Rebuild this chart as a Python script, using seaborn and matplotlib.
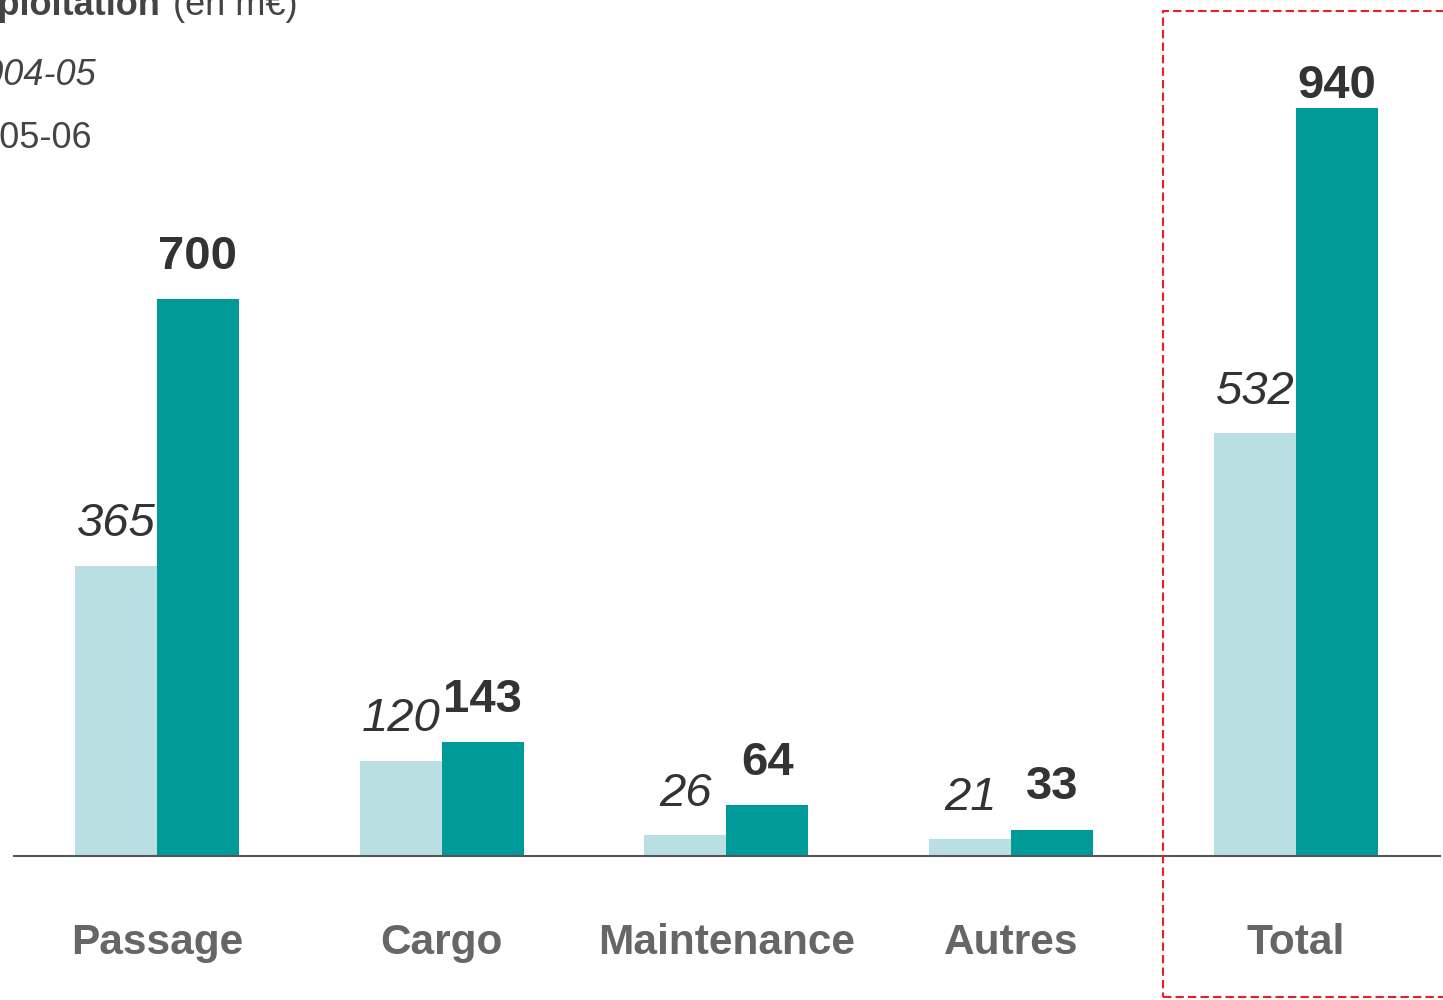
import pandas as pd
import matplotlib
matplotlib.use("Agg")
import matplotlib.pyplot as plt
import matplotlib.patches as mpatches
import seaborn as sns

# Data
categories = ["Passage", "Cargo", "Maintenance", "Autres", "Total"]
years = ["2004-05", "2005-06"]
values_0405 = [365, 120, 26, 21, 532]
values_0506 = [700, 143, 64, 33, 940]
title_bold = "Résultat d'exploitation"
title_unit = "(en m€)"

LIGHT = "#B9DFE2"
DARK = "#009A99"

sns.set_style("white")
plt.rcParams["font.family"] = ["Liberation Sans", "DejaVu Sans"]

df = pd.DataFrame({
    "categorie": categories * 2,
    "annee": [years[0]] * len(categories) + [years[1]] * len(categories),
    "valeur": values_0405 + values_0506,
})

W, H = 1443, 1000
fig = plt.figure(figsize=(W / 100, H / 100), dpi=100)
ax = fig.add_axes([14 / W, 144 / H, (1440 - 14) / W, 856 / H])

sns.barplot(data=df, x="categorie", y="valeur", hue="annee", order=categories,
            hue_order=years, palette=[LIGHT, DARK], saturation=1, width=0.576,
            linewidth=0, errorbar=None, legend=False, ax=ax)

ax.set_xlim(-0.502, 4.506)
ax.set_ylim(0, 1076)
ax.set_xlabel("")
ax.set_ylabel("")
ax.set_yticks([])
for s in ["top", "left", "right"]:
    ax.spines[s].set_visible(False)
ax.spines["bottom"].set_color("#555555")
ax.spines["bottom"].set_linewidth(1.5)
ax.tick_params(axis="x", length=0, pad=48, labelsize=30.5, labelcolor="#666666")
for lbl in ax.get_xticklabels():
    lbl.set_fontweight("bold")

# value labels
for container, year in zip(ax.containers, years):
    for i, bar in enumerate(container):
        v = bar.get_height()
        cx = bar.get_x() + bar.get_width() / 2
        if year == years[0]:
            ax.annotate(f"{v:.0f}", (cx, v), xytext=(0, 21), textcoords="offset points",
                        ha="center", va="baseline", fontsize=34, fontstyle="italic",
                        color="#333333")
        else:
            off = 7 if categories[i] == "Total" else 22
            ax.annotate(f"{v:.0f}", (cx, v), xytext=(0, off), textcoords="offset points",
                        ha="center", va="baseline", fontsize=34, fontweight="bold",
                        color="#333333")

# title and legend (cropped at the slide edge)
fig.text(160 / W, 1 - 15 / H, title_bold, ha="right", va="baseline",
         fontsize=26, fontweight="bold", color="#444444")
fig.text(173 / W, 1 - 15 / H, title_unit, ha="left", va="baseline",
         fontsize=26, color="#444444")
fig.text(96 / W, 1 - 85 / H, years[0], ha="right", va="baseline",
         fontsize=26, fontstyle="italic", color="#444444")
fig.text(92 / W, 1 - 148 / H, years[1], ha="right", va="baseline",
         fontsize=26, color="#444444")

# dashed highlight around Total
box = mpatches.Rectangle((1163 / W, 1 - 997 / H), (W + 20 - 1163) / W, (997 - 11) / H,
                         transform=fig.transFigure, fill=False, edgecolor="#EE1C24",
                         linewidth=1.5, linestyle=(0, (4, 2)))
fig.patches.append(box)

fig.savefig("out.png", dpi=100)
